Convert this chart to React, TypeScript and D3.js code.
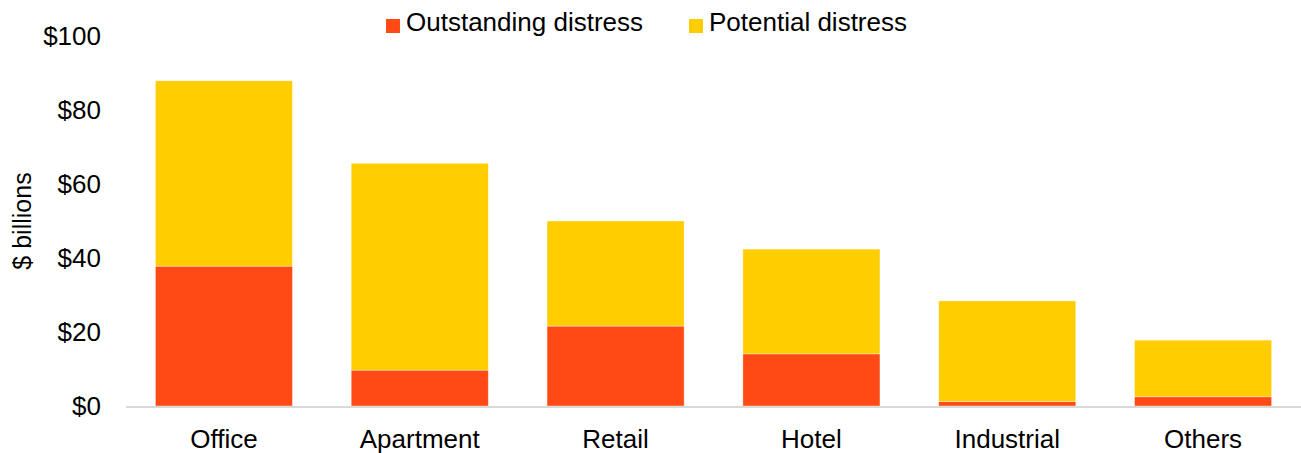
import React from "react";
import * as d3 from "d3";

const categories = ["Office", "Apartment", "Retail", "Hotel", "Industrial", "Others"];
const outstanding = [37.8, 9.7, 21.6, 14.1, 1.2, 2.5];
const potential = [50.1, 55.9, 28.4, 28.3, 27.2, 15.3];
const yTicks = [0, 20, 40, 60, 80, 100];
const seriesNames = ["Outstanding distress", "Potential distress"];
const colors = ["#FF4A15", "#FFCD00"];

export default function App() {
  const W = 1301, H = 453;
  const left = 126, right = 1301, top = 36, bottom = 406;
  const x = d3.scaleBand<string>().domain(categories).range([left, right]).paddingInner(0.3).paddingOuter(0.15);
  const y = d3.scaleLinear().domain([0, 100]).range([bottom, top]);
  const stackData = categories.map((c, i) => ({ cat: c, o: outstanding[i], p: potential[i] }));
  const stack = d3.stack<any>().keys(["o", "p"])(stackData);
  const font = "Arial, 'Liberation Sans', sans-serif";
  return (
    <svg width={W} height={H} style={{ position: "absolute", left: 0, top: 0, display: "block" }} fontFamily={font}>
      {stack.map((s, si) => (
        <g key={si} fill={colors[si]}>
          {s.map((d, i) => (
            <rect key={i} x={x(categories[i])} y={y(d[1])} width={x.bandwidth()} height={y(d[0]) - y(d[1])}
              stroke="#ffffff" strokeOpacity={0.5} strokeWidth={0.75} />
          ))}
        </g>
      ))}
      <line x1={left} x2={right} y1={y(0) + 1} y2={y(0) + 1} stroke="#D9D9D9" strokeWidth={2} />
      {yTicks.map(t => (
        <text key={t} x={101} y={y(t)} dy="0.36em" textAnchor="end" fontSize={26} fill="#000">${t}</text>
      ))}
      {categories.map(c => (
        <text key={c} x={(x(c) as number) + x.bandwidth() / 2} y={448} textAnchor="middle" fontSize={26} fill="#000">{c}</text>
      ))}
      <text transform={`translate(31,221) rotate(-90)`} textAnchor="middle" fontSize={25} fill="#000">$ billions</text>
      <g>
        <rect x={386} y={19} width={14} height={14} fill={colors[0]} />
        <text x={406} y={31} fontSize={26} fill="#000">{seriesNames[0]}</text>
        <rect x={689} y={19} width={14} height={14} fill={colors[1]} />
        <text x={709} y={31} fontSize={26} fill="#000">{seriesNames[1]}</text>
      </g>
    </svg>
  );
}
